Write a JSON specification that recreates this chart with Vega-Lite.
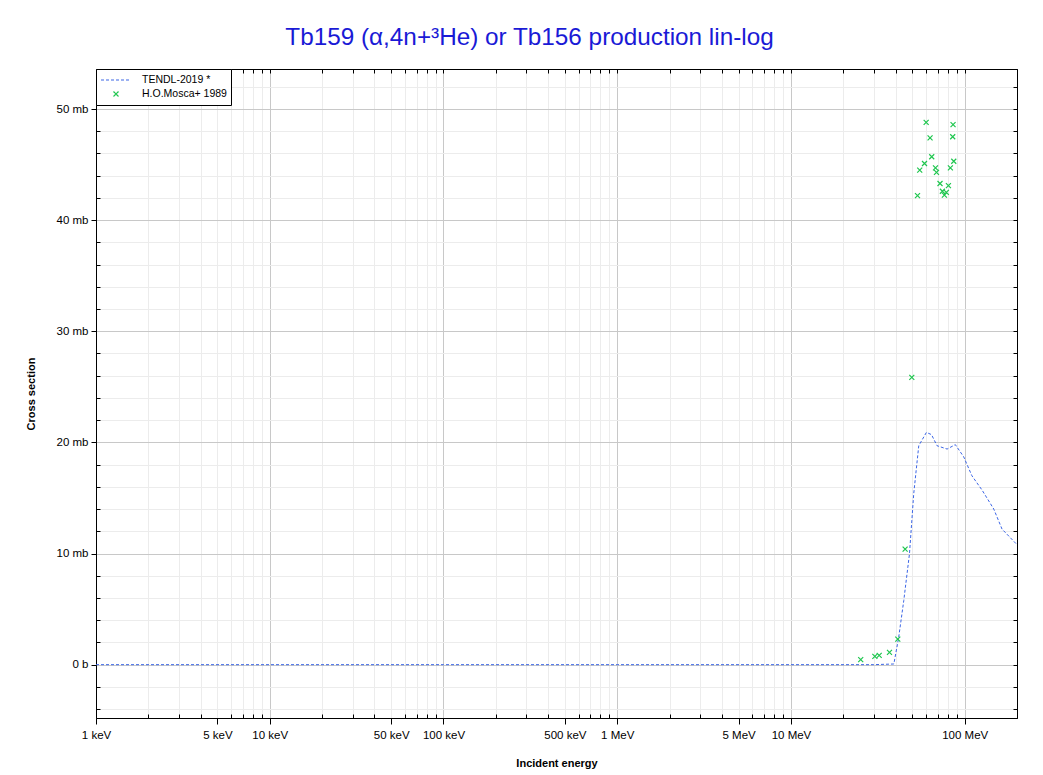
{
  "$schema": "https://vega.github.io/schema/vega-lite/v6.json",
  "autosize": {"type": "none"},
  "padding": {"left": 96, "top": 69, "right": 26, "bottom": 57},
  "width": 921,
  "height": 649,
  "background": "white",
  "config": {
    "font": "Liberation Sans",
    "view": {"stroke": "black", "strokeWidth": 1}
  },
  "title": {
    "text": "Tb159 (α,4n+³He) or Tb156 production lin-log",
    "fontSize": 24.3,
    "fontWeight": "normal",
    "font": "Liberation Sans",
    "color": "#1a1ad6",
    "anchor": "middle",
    "frame": "group",
    "offset": 18,
    "dx": -27
  },
  "datasets": {
    "tendl": [
      {"series": "TENDL-2019 *", "energy": 0.001, "xs": 0},
      {"series": "TENDL-2019 *", "energy": 0.01, "xs": 0},
      {"series": "TENDL-2019 *", "energy": 0.1, "xs": 0},
      {"series": "TENDL-2019 *", "energy": 1, "xs": 0},
      {"series": "TENDL-2019 *", "energy": 10, "xs": 0},
      {"series": "TENDL-2019 *", "energy": 30, "xs": 0},
      {"series": "TENDL-2019 *", "energy": 39.1, "xs": 0.06},
      {"series": "TENDL-2019 *", "energy": 41.7, "xs": 2.46},
      {"series": "TENDL-2019 *", "energy": 44.6, "xs": 5.77},
      {"series": "TENDL-2019 *", "energy": 48.1, "xs": 9.97},
      {"series": "TENDL-2019 *", "energy": 50.9, "xs": 15.4},
      {"series": "TENDL-2019 *", "energy": 54.4, "xs": 19.7},
      {"series": "TENDL-2019 *", "energy": 60.2, "xs": 20.9},
      {"series": "TENDL-2019 *", "energy": 64.4, "xs": 20.7},
      {"series": "TENDL-2019 *", "energy": 69.3, "xs": 19.7},
      {"series": "TENDL-2019 *", "energy": 79.2, "xs": 19.4},
      {"series": "TENDL-2019 *", "energy": 88.3, "xs": 19.8},
      {"series": "TENDL-2019 *", "energy": 98.7, "xs": 18.7},
      {"series": "TENDL-2019 *", "energy": 110, "xs": 17.0},
      {"series": "TENDL-2019 *", "energy": 126, "xs": 15.7},
      {"series": "TENDL-2019 *", "energy": 147, "xs": 14.0},
      {"series": "TENDL-2019 *", "energy": 164, "xs": 12.2},
      {"series": "TENDL-2019 *", "energy": 200, "xs": 10.8}
    ],
    "mosca": [
      {"series": "H.O.Mosca+ 1989", "energy": 25.2, "xs": 0.45},
      {"series": "H.O.Mosca+ 1989", "energy": 30.4, "xs": 0.75},
      {"series": "H.O.Mosca+ 1989", "energy": 32.2, "xs": 0.84},
      {"series": "H.O.Mosca+ 1989", "energy": 36.9, "xs": 1.1},
      {"series": "H.O.Mosca+ 1989", "energy": 41.2, "xs": 2.3},
      {"series": "H.O.Mosca+ 1989", "energy": 45.4, "xs": 10.4},
      {"series": "H.O.Mosca+ 1989", "energy": 49.6, "xs": 25.85},
      {"series": "H.O.Mosca+ 1989", "energy": 53.5, "xs": 42.2},
      {"series": "H.O.Mosca+ 1989", "energy": 55.1, "xs": 44.5},
      {"series": "H.O.Mosca+ 1989", "energy": 58.7, "xs": 45.1},
      {"series": "H.O.Mosca+ 1989", "energy": 60.0, "xs": 48.8},
      {"series": "H.O.Mosca+ 1989", "energy": 63.2, "xs": 47.4},
      {"series": "H.O.Mosca+ 1989", "energy": 64.6, "xs": 45.7},
      {"series": "H.O.Mosca+ 1989", "energy": 67.9, "xs": 44.7},
      {"series": "H.O.Mosca+ 1989", "energy": 68.8, "xs": 44.3},
      {"series": "H.O.Mosca+ 1989", "energy": 72.1, "xs": 43.3},
      {"series": "H.O.Mosca+ 1989", "energy": 74.4, "xs": 42.6},
      {"series": "H.O.Mosca+ 1989", "energy": 76.4, "xs": 42.25},
      {"series": "H.O.Mosca+ 1989", "energy": 78.4, "xs": 42.5},
      {"series": "H.O.Mosca+ 1989", "energy": 80.6, "xs": 43.1},
      {"series": "H.O.Mosca+ 1989", "energy": 82.7, "xs": 44.7},
      {"series": "H.O.Mosca+ 1989", "energy": 85.3, "xs": 47.5},
      {"series": "H.O.Mosca+ 1989", "energy": 85.7, "xs": 48.6},
      {"series": "H.O.Mosca+ 1989", "energy": 86.5, "xs": 45.3}
    ]
  },
  "resolve": {"axis": {"x": "independent", "y": "independent"}},
  "layer": [
    {
      "data": {"name": "tendl"},
      "mark": {"type": "line", "strokeWidth": 1, "clip": true, "interpolate": "linear"},
      "encoding": {
        "x": {
          "field": "energy", "type": "quantitative",
          "scale": {"type": "log", "domain": [0.001, 200], "nice": false},
          "axis": {
            "orient": "bottom",
            "title": "Incident energy",
            "titleFont": "Liberation Sans", "titleFontSize": 11, "titleFontWeight": "bold", "titleColor": "black", "titlePadding": 17,
            "values": [0.001,0.002,0.003,0.004,0.005,0.006,0.007,0.008,0.009,0.01,0.02,0.03,0.04,0.05,0.06,0.07,0.08,0.09,0.1,0.2,0.3,0.4,0.5,0.6,0.7,0.8,0.9,1,2,3,4,5,6,7,8,9,10,20,30,40,50,60,70,80,90,100,200],
            "labelExpr": "indexof([0.001,0.005,0.01,0.05,0.1,0.5,1,5,10,100], datum.value) >= 0 ? (datum.value < 1 ? round(datum.value*1000) + ' keV' : datum.value + ' MeV') : ''",
            "labelFont": "Liberation Sans", "labelFontSize": 11.5, "labelColor": "black", "labelPadding": 5,
            "labelOverlap": false, "labelFlush": false,
            "domain": true, "domainColor": "black", "domainWidth": 1,
            "ticks": true, "tickColor": "black",
            "tickSize": {"condition": {"test": "indexof([0.001,0.005,0.01,0.05,0.1,0.5,1,5,10,100], datum.value) >= 0", "value": 6}, "value": -4},
            "grid": true,
            "gridColor": {"condition": {"test": "indexof([0.001,0.01,0.1,1,10,100], datum.value) >= 0", "value": "#c8c8c8"}, "value": "#ececec"},
            "gridWidth": 1
          }
        },
        "y": {
          "field": "xs", "type": "quantitative",
          "scale": {"domain": [-4.8, 53.6], "nice": false, "zero": false},
          "axis": {
            "orient": "left",
            "title": "Cross section",
            "titleFont": "Liberation Sans", "titleFontSize": 11, "titleFontWeight": "bold", "titleColor": "black", "titlePadding": 20,
            "values": [-4,-2,0,2,4,6,8,10,12,14,16,18,20,22,24,26,28,30,32,34,36,38,40,42,44,46,48,50,52],
            "labelExpr": "datum.value == 0 ? '0 b' : (datum.value % 10 == 0 ? datum.value + ' mb' : '')",
            "labelFont": "Liberation Sans", "labelFontSize": 11.5, "labelColor": "black", "labelPadding": 3,
            "labelOverlap": false, "labelFlush": false,
            "domain": true, "domainColor": "black",
            "ticks": true, "tickColor": "black",
            "tickSize": {"condition": {"test": "datum.value % 10 == 0", "value": 5}, "value": -4},
            "grid": true,
            "gridColor": {"condition": {"test": "datum.value % 10 == 0", "value": "#c8c8c8"}, "value": "#ececec"},
            "gridWidth": 1
          }
        },
        "color": {
          "field": "series", "type": "nominal",
          "scale": {"domain": ["TENDL-2019 *", "H.O.Mosca+ 1989"], "range": ["#3c66e6", "#1fc64f"]}
        },
        "strokeDash": {
          "field": "series", "type": "nominal",
          "scale": {"domain": ["TENDL-2019 *", "H.O.Mosca+ 1989"], "range": [[3, 2], [1, 0]]}
        }
      }
    },
    {
      "data": {"name": "mosca"},
      "mark": {"type": "point", "filled": false, "strokeWidth": 1.2, "opacity": 1, "clip": true},
      "encoding": {
        "x": {
          "field": "energy", "type": "quantitative",
          "scale": {"type": "log", "domain": [0.001, 200], "nice": false},
          "axis": {
            "orient": "top", "title": null, "labels": false, "grid": false,
            "values": [0.001,0.002,0.003,0.004,0.005,0.006,0.007,0.008,0.009,0.01,0.02,0.03,0.04,0.05,0.06,0.07,0.08,0.09,0.1,0.2,0.3,0.4,0.5,0.6,0.7,0.8,0.9,1,2,3,4,5,6,7,8,9,10,20,30,40,50,60,70,80,90,100,200],
            "domain": true, "domainColor": "black",
            "ticks": true, "tickColor": "black", "tickSize": -4
          }
        },
        "y": {
          "field": "xs", "type": "quantitative",
          "scale": {"domain": [-4.8, 53.6], "nice": false, "zero": false},
          "axis": {
            "orient": "right", "title": null, "labels": false, "grid": false,
            "values": [-4,-2,0,2,4,6,8,10,12,14,16,18,20,22,24,26,28,30,32,34,36,38,40,42,44,46,48,50,52],
            "domain": true, "domainColor": "black",
            "ticks": true, "tickColor": "black", "tickSize": -4
          }
        },
        "shape": {
          "field": "series", "type": "nominal",
          "scale": {"domain": ["TENDL-2019 *", "H.O.Mosca+ 1989"], "range": ["stroke", "M-1,-1L1,1M1,-1L-1,1"]}
        },
        "size": {
          "field": "series", "type": "nominal",
          "scale": {"domain": ["TENDL-2019 *", "H.O.Mosca+ 1989"], "range": [900, 25]}
        },
        "color": {
          "field": "series", "type": "nominal",
          "scale": {"domain": ["TENDL-2019 *", "H.O.Mosca+ 1989"], "range": ["#3c66e6", "#1fc64f"]},
          "legend": {
            "title": null,
            "orient": "top-left",
            "offset": 0,
            "padding": 4,
            "strokeColor": "black",
            "fillColor": "white",
            "cornerRadius": 0,
            "labelFont": "Liberation Sans",
            "labelFontSize": 10.5,
            "labelColor": "black",
            "rowPadding": 0,
            "clipHeight": 14,
            "symbolStrokeWidth": 1.2,
            "labelOffset": 10,
            "values": ["TENDL-2019 *", "H.O.Mosca+ 1989"]
          }
        }
      }
    }
  ]
}
